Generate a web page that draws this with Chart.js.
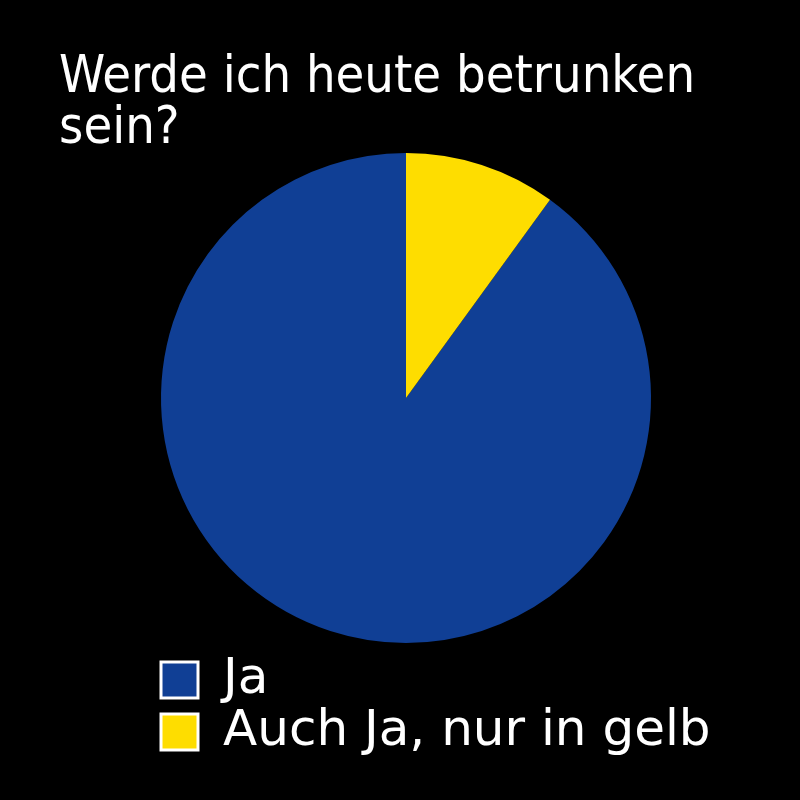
<!DOCTYPE html>
<html>
<head>
<meta charset="utf-8">
<script src="https://cdn.jsdelivr.net/npm/chart.js@4/dist/chart.umd.min.js"></script>
<style>
  html, body { margin: 0; padding: 0; background: #000; }
  #wrap { width: 800px; height: 800px; }
</style>
</head>
<body>
<div id="wrap"><canvas id="drunkPie" width="800" height="800"></canvas></div>
<script>
var titleLines = ["Werde ich heute betrunken", "sein?"];
var labels = ["Ja", "Auch Ja, nur in gelb"];
var values = [90, 10];
var colors = ["#103f95", "#fedd00"];

var titleFont = "'DejaVu Sans Condensed', 'DejaVu Sans', sans-serif";
var legendFont = "'DejaVu Sans', sans-serif";

// title drawn by hand so it can sit left of the padded legend
var titlePlugin = {
  id: 'leftTitle',
  afterDraw: function(chart) {
    var ctx = chart.ctx;
    ctx.save();
    ctx.fillStyle = '#fff';
    ctx.font = '52px ' + titleFont;
    ctx.textAlign = 'left';
    ctx.textBaseline = 'alphabetic';
    ctx.fillText(titleLines[0], 59, 92);
    ctx.fillText(titleLines[1], 59, 143);
    ctx.restore();
  }
};

var ctx = document.getElementById('drunkPie').getContext('2d');
var chart = new Chart(ctx, {
  type: 'pie',
  data: {
    labels: labels,
    datasets: [{
      data: values,
      backgroundColor: colors,
      borderWidth: 0,
      clip: false
    }]
  },
  options: {
    responsive: false,
    animation: false,
    // yellow slice starts at 12 o'clock, "Ja" follows it
    rotation: 36,
    radius: 245,
    layout: {
      padding: { left: 159, right: 80, top: 143, bottom: 33 }
    },
    plugins: {
      tooltip: { enabled: false },
      // empty box on the right, only to pull the pie back toward the middle
      subtitle: {
        display: true,
        text: '',
        position: 'right',
        fullSize: false,
        font: { size: 10, lineHeight: 1.2 },
        padding: { top: 27, bottom: 28 }
      },
      legend: {
        display: true,
        position: 'bottom',
        align: 'start',
        labels: {
          color: '#fff',
          boxWidth: 37,
          boxHeight: 36,
          padding: 2,
          font: { size: 50, family: legendFont },
          generateLabels: function(chart) {
            var ds = chart.data.datasets[0];
            return chart.data.labels.map(function(label, i) {
              return {
                text: label,
                fillStyle: ds.backgroundColor[i],
                strokeStyle: '#fff',
                lineWidth: 3,
                fontColor: '#fff',
                hidden: false,
                index: i
              };
            });
          }
        }
      }
    }
  },
  plugins: [titlePlugin]
});
</script>
</body>
</html>
